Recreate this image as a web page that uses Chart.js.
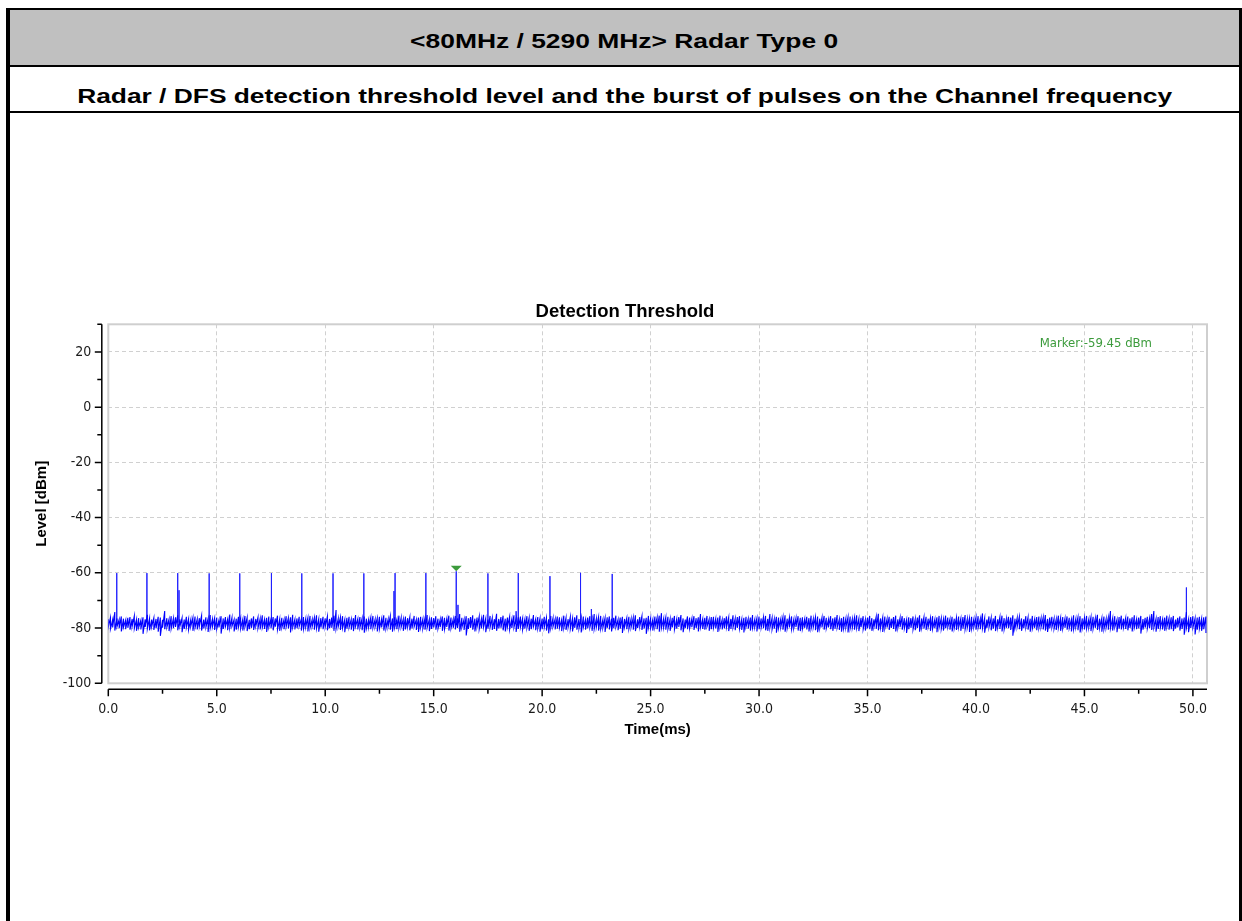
<!DOCTYPE html>
<html>
<head>
<meta charset="utf-8">
<script src="https://cdn.jsdelivr.net/npm/chart.js@4.4.1/dist/chart.umd.min.js"></script>
<style>
  html, body { margin:0; padding:0; background:#fff; width:1242px; height:921px; overflow:hidden; }
  .abs { position:absolute; }
  #outer { left:6px; top:8px; width:1236px; height:913px; box-sizing:border-box;
           border-left:4px solid #000; border-right:3px solid #000; border-top:2px solid #000; }
  #hdr { left:10px; top:10px; width:1229px; height:55px; background:#c0c0c0; }
  #line1 { left:10px; top:65px; width:1229px; height:2px; background:#000; }
  #line2 { left:10px; top:111px; width:1229px; height:2px; background:#000; }
  .htxt { left:10px; width:1229px; text-align:center; font-family:"Liberation Sans", Arial, sans-serif;
          font-weight:bold; font-size:20px; line-height:20px; color:#000; white-space:nowrap; }
  .htxt span { display:inline-block; transform-origin:50% 50%; }
  #h1 { top:31px; }
  #h2 { top:86px; }
  #chart { left:0; top:0; }
</style>
</head>
<body>
<div id="outer" class="abs"></div>
<div id="hdr" class="abs"></div>
<div id="line1" class="abs"></div>
<div id="line2" class="abs"></div>
<div id="h1" class="abs htxt"><span id="h1s">&lt;80MHz / 5290 MHz&gt; Radar Type 0</span></div>
<div id="h2" class="abs htxt"><span id="h2s">Radar / DFS detection threshold level and the burst of pulses on the Channel frequency</span></div>
<canvas id="chart" class="abs" width="1242" height="921"></canvas>
<script>
// ---------------- data ----------------
const chartTitle = "Detection Threshold";
const xAxisTitle = "Time(ms)";
const yAxisTitle = "Level [dBm]";

const xTicks = [0, 5, 10, 15, 20, 25, 30, 35, 40, 45, 50];
const xTickLabels = ["0.0", "5.0", "10.0", "15.0", "20.0", "25.0", "30.0", "35.0", "40.0", "45.0", "50.0"];
const xMinorTicks = [2.5, 7.5, 12.5, 17.5, 22.5, 27.5, 32.5, 37.5, 42.5, 47.5];
const yTicks = [-100, -80, -60, -40, -20, 0, 20];
const yTickLabels = ["-100", "-80", "-60", "-40", "-20", "0", "20"];
const yMinorTicks = [-90, -70, -50, -30, -10, 10, 30];
const xRange = [0, 50.65];
const yRange = [-100, 30];

// noise floor: highest and lowest level in each 0.1 ms bin, bins starting at 0 ms (dBm)
const noiseStart = 0;
const noiseStep = 0.1;
const noiseMax = [
 -76.8,-76.2,-77.0,-74.2,-76.5,-76.9,-75.8,-76.6,-77.1,-76.3,
 -76.0,-76.7,-75.6,-76.9,-76.4,-77.2,-76.1,-76.8,-75.2,-76.5,
 -76.9,-76.3,-76.7,-75.9,-76.2,-77.0,-73.8,-76.4,-76.8,-75.7,
 -76.5,-76.1,-75.4,-76.8,-76.3,-76.9,-75.9,-76.6,-77.0,-76.2,
 -75.8,-76.7,-76.4,-75.5,-76.9,-76.1,-76.6,-75.3,-76.8,-76.4,
 -76.2,-77.1,-75.7,-76.5,-76.0,-76.8,-75.1,-76.3,-76.9,-76.6,
 -75.9,-76.4,-76.8,-75.6,-76.2,-77.0,-76.5,-75.8,-76.7,-76.1,
 -76.6,-75.4,-76.9,-76.3,-75.8,-76.7,-76.0,-76.5,-75.5,-76.8,
 -76.3,-76.9,-75.7,-76.4,-76.1,-75.2,-76.8,-76.5,-75.9,-76.7,
 -76.0,-76.6,-76.3,-75.6,-76.9,-76.2,-75.4,-76.7,-76.4,-75.9,
 -76.5,-75.8,-76.7,-76.2,-75.5,-73.5,-76.6,-76.1,-75.7,-76.9,
 -76.3,-75.9,-76.8,-76.4,-75.3,-76.7,-76.0,-76.5,-75.8,-76.6,
 -76.9,-76.2,-75.6,-76.8,-76.4,-75.9,-76.7,-75.4,-76.3,-76.8,
 -75.7,-76.5,-76.1,-76.9,-75.5,-76.3,-76.7,-75.8,-76.4,-76.0,
 -76.6,-75.6,-76.9,-76.2,-75.9,-76.7,-76.4,-75.3,-76.8,-76.1,
 -76.4,-75.7,-76.6,-76.9,-75.8,-76.3,-76.7,-75.5,-76.2,-76.8,
 -75.6,-76.5,-74.9,-76.3,-76.8,-75.7,-76.4,-76.0,-75.4,-76.6,
 -76.2,-75.8,-76.7,-75.2,-76.5,-76.9,-75.6,-76.3,-76.8,-74.8,
 -76.7,-76.0,-75.5,-76.6,-76.2,-75.9,-76.8,-75.4,-76.5,-76.1,
 -75.8,-76.4,-76.9,-75.7,-76.3,-76.6,-75.3,-76.8,-76.0,-76.5,
 -76.6,-75.9,-76.2,-76.8,-75.6,-76.4,-76.7,-75.8,-76.1,-76.9,
 -75.5,-76.3,-76.8,-75.9,-76.5,-76.1,-75.4,-76.7,-76.3,-75.8,
 -76.8,-76.2,-75.7,-76.5,-74.9,-76.6,-76.0,-75.6,-76.9,-76.3,
 -76.1,-75.8,-76.6,-76.3,-75.5,-76.9,-76.2,-75.9,-76.7,-76.4,
 -75.9,-76.7,-76.2,-75.4,-76.8,-76.0,-75.7,-76.5,-76.3,-75.6,
 -76.4,-76.9,-75.8,-76.2,-75.5,-74.6,-76.6,-76.1,-75.9,-76.7,
 -76.3,-75.6,-76.8,-76.0,-75.3,-76.5,-76.9,-75.8,-76.2,-76.6,
 -75.7,-76.4,-76.1,-74.9,-76.7,-76.3,-75.6,-76.8,-76.0,-75.9,
 -76.6,-76.2,-75.5,-76.9,-76.4,-75.8,-76.1,-76.7,-75.4,-76.5,
 -76.0,-75.7,-76.8,-76.3,-75.9,-76.6,-76.2,-75.3,-76.9,-76.4,
 -75.8,-76.5,-76.1,-75.6,-76.7,-74.9,-76.3,-76.8,-75.9,-76.2,
 -76.7,-76.0,-75.4,-76.6,-76.2,-75.8,-76.9,-76.4,-75.7,-76.3,
 -76.1,-76.8,-75.9,-76.4,-75.5,-76.7,-76.0,-75.8,-76.6,-76.2,
 -75.6,-76.3,-76.9,-75.7,-76.5,-76.1,-75.3,-76.8,-76.4,-75.9,
 -76.5,-76.0,-75.8,-76.7,-76.2,-75.4,-76.6,-76.3,-75.7,-76.9,
 -76.2,-75.6,-76.4,-76.8,-75.9,-74.8,-76.5,-76.1,-75.8,-76.7,
 -75.9,-76.6,-76.0,-75.5,-76.8,-76.3,-75.7,-76.4,-76.9,-76.1,
 -76.4,-75.8,-76.7,-76.2,-75.4,-76.5,-76.0,-75.9,-76.6,-76.3,
 -75.7,-76.9,-76.1,-75.6,-76.4,-76.8,-75.5,-76.2,-76.7,-75.9,
 -76.6,-76.2,-75.8,-76.5,-76.0,-75.3,-76.7,-76.4,-75.9,-76.8,
 -76.1,-75.7,-76.6,-74.7,-76.3,-76.9,-75.8,-76.2,-76.5,-75.6,
 -76.8,-76.0,-75.5,-76.4,-76.7,-75.9,-76.2,-75.4,-76.6,-76.3,
 -75.9,-76.5,-76.8,-75.7,-76.1,-76.6,-75.6,-76.9,-76.0,-75.8,
 -76.4,-76.1,-75.3,-76.7,-76.2,-75.9,-76.5,-76.8,-75.5,-76.3,
 -76.0,-76.6,-75.8,-76.3,-76.9,-75.4,-76.7,-76.1,-75.7,-76.5,
 -76.3,-75.6,-76.8,-76.0,-75.9,-76.5,-75.2,-76.6,-76.4,-75.8,
 -76.7,-76.2,-73.8,-76.4,-75.7,-76.9,-76.0,-75.5,-76.6,-76.3,
 -75.8,-76.5,-76.1,-75.4,-76.8,-76.2,-75.6,-76.7,-76.3,-75.9,
 -76.5,-74.9,-73.8,-76.6,-76.0,-75.7,-76.8,-76.2,-75.5,-76.4,
 -76.1,-75.6,-76.9,-76.3,-75.8,-76.5,-76.2,-74.2,-76.7,-76.0,
 -75.7,-76.4,-76.2,-75.9,-76.6,-76.1,-75.8
];
const noiseMin = [
 -79.6,-80.3,-79.8,-80.9,-79.5,-80.1,-81.2,-79.7,-80.4,-79.9,
 -80.6,-79.4,-80.2,-81.0,-79.8,-80.5,-82.1,-79.6,-80.3,-80.8,
 -79.5,-80.7,-80.1,-81.3,-82.8,-79.9,-80.4,-79.7,-81.1,-80.2,
 -80.0,-79.6,-80.8,-79.4,-81.5,-80.3,-79.8,-80.6,-79.5,-81.0,
 -79.9,-80.5,-79.3,-80.9,-80.2,-79.7,-81.4,-80.1,-79.6,-80.7,
 -80.4,-79.8,-82.0,-80.3,-79.5,-80.8,-80.0,-79.4,-81.2,-80.6,
 -79.7,-80.2,-80.9,-79.6,-81.1,-80.4,-79.9,-80.7,-79.3,-80.1,
 -80.5,-79.8,-80.3,-81.4,-79.7,-80.0,-80.8,-79.5,-80.6,-81.0,
 -79.9,-80.4,-79.6,-80.2,-81.6,-79.8,-80.5,-80.1,-79.4,-80.9,
 -80.3,-79.7,-81.2,-80.0,-79.5,-80.6,-80.2,-81.3,-79.8,-80.4,
 -79.6,-80.8,-80.1,-79.9,-81.0,-80.3,-79.5,-80.7,-80.0,-81.5,
 -80.2,-79.8,-80.6,-81.1,-79.4,-80.5,-79.9,-80.8,-81.7,-80.1,
 -79.7,-80.4,-80.0,-79.6,-81.2,-80.3,-79.8,-80.9,-80.2,-79.5,
 -80.6,-81.3,-79.9,-80.4,-80.0,-79.7,-81.0,-80.5,-79.6,-80.8,
 -80.1,-79.5,-80.7,-81.4,-79.8,-80.2,-80.6,-79.9,-81.1,-80.3,
 -79.8,-80.6,-80.2,-79.7,-81.0,-80.4,-79.6,-80.9,-80.1,-79.9,
 -80.5,-80.0,-81.3,-79.8,-80.7,-82.7,-80.3,-79.9,-80.6,-81.2,
 -79.6,-80.4,-80.1,-79.7,-81.5,-80.2,-79.8,-80.7,-80.3,-81.0,
 -80.2,-79.9,-80.8,-81.2,-79.6,-80.5,-80.0,-79.8,-81.4,-80.3,
 -79.7,-80.6,-80.2,-79.9,-81.0,-80.4,-79.5,-80.8,-80.1,-81.3,
 -80.4,-79.8,-80.9,-81.9,-80.0,-79.6,-80.5,-80.2,-79.9,-81.1,
 -80.0,-80.7,-79.7,-80.3,-81.2,-79.9,-80.6,-80.1,-81.6,-79.8,
 -80.6,-80.1,-79.8,-81.0,-80.4,-79.7,-80.9,-80.3,-79.9,-81.4,
 -79.9,-80.5,-81.2,-80.0,-79.7,-80.8,-80.2,-81.8,-79.6,-80.4,
 -80.3,-79.8,-80.6,-81.1,-80.0,-79.5,-80.7,-80.2,-82.1,-79.9,
 -80.1,-80.9,-79.7,-80.4,-81.3,-80.0,-79.8,-80.6,-80.3,-81.0,
 -79.8,-80.5,-80.2,-79.6,-80.8,-81.5,-79.9,-80.4,-80.1,-79.7,
 -80.7,-80.0,-81.2,-79.8,-80.3,-80.6,-79.5,-81.0,-80.4,-79.9,
 -80.2,-81.4,-79.9,-80.5,-80.1,-79.7,-81.1,-80.3,-79.8,-80.8,
 -79.9,-80.3,-80.7,-81.6,-79.6,-80.2,-80.9,-80.0,-79.7,-81.2,
 -80.4,-79.8,-80.1,-80.8,-81.0,-79.9,-80.5,-80.2,-81.7,-80.0,
 -79.7,-80.6,-81.3,-80.0,-79.8,-80.4,-80.1,-79.6,-80.9,-81.1,
 -80.3,-79.9,-80.5,-81.2,-80.2,-79.7,-80.8,-81.5,-80.0,-79.8,
 -80.6,-80.1,-79.8,-80.4,-81.0,-80.3,-79.9,-80.7,-81.3,-80.2,
 -79.8,-81.6,-80.2,-79.9,-80.6,-80.0,-81.1,-79.7,-80.4,-80.9,
 -80.1,-80.4,-81.0,-79.6,-80.3,-80.8,-79.9,-81.4,-80.2,-79.8,
 -80.7,-79.9,-80.3,-81.2,-80.0,-79.7,-80.6,-80.1,-81.8,-80.4,
 -79.9,-80.5,-80.8,-80.0,-81.3,-79.8,-80.2,-80.7,-79.6,-81.0,
 -80.3,-80.0,-81.5,-79.9,-80.4,-80.9,-80.1,-79.7,-80.6,-81.2,
 -80.0,-80.7,-79.8,-81.0,-80.2,-80.5,-79.9,-81.4,-80.3,-79.7,
 -80.6,-79.9,-80.4,-80.1,-81.7,-80.0,-79.8,-80.8,-80.2,-81.1,
 -79.8,-80.3,-81.2,-80.5,-79.9,-80.1,-80.7,-82.8,-80.0,-79.6,
 -80.4,-81.0,-80.1,-79.8,-80.6,-81.3,-80.2,-79.9,-80.8,-80.0,
 -79.7,-80.5,-80.9,-81.4,-80.1,-79.8,-80.3,-80.7,-79.9,-81.0,
 -80.2,-79.9,-80.6,-80.0,-81.2,-80.4,-79.7,-80.8,-81.6,-80.1,
 -80.5,-80.2,-79.8,-81.1,-80.3,-79.9,-80.7,-80.0,-81.3,-80.4,
 -79.9,-80.6,-80.1,-80.9,-79.7,-81.5,-80.2,-80.5,-79.8,-80.3,
 -80.8,-80.0,-81.2,-79.9,-80.4,-80.1,-82.0,-80.6,-79.8,-80.2,
 -80.1,-80.7,-79.9,-81.3,-80.3,-80.0,-80.5,-81.0,-79.7,-80.6,
 -80.4,-81.1,-80.2,-79.8,-80.9,-80.3,-82.4,-80.1,-81.5,-80.0,
 -79.9,-82.3,-80.6,-80.2,-81.0,-80.4,-81.8
];

// radar burst pulses (time in ms, peak level in dBm)
const pulseTimes  = [0.39, 1.78, 3.20, 4.65, 6.06, 7.52, 8.92, 10.36, 11.78, 13.22, 14.64, 16.04, 17.50, 18.90, 20.36, 21.77, 23.23];
const pulseLevels = [-60.1, -60.1, -60.1, -60.2, -60.2, -60.1, -60.2, -60.2, -60.2, -60.1, -60.1, -59.45, -60.2, -60.1, -61.2, -60.0, -60.4];
// smaller spikes
const spikeTimes  = [3.26, 13.17, 16.12, 18.80, 22.27, 49.70];
const spikeLevels = [-66.3, -66.6, -71.6, -73.9, -73.1, -65.3];
const pulseBase = -78;

// marker
const markerTime = 16.04;
const markerLevel = -59.45;
const markerLabel = "Marker:" + markerLevel.toFixed(2) + " dBm";

// ---------------- build ----------------
const noiseData = [];
noiseMax.forEach((hi, i) => {
  const t = noiseStart + i * noiseStep;
  noiseData.push({ x: t, y: hi }, { x: t, y: noiseMin[i] });
});
const pulseData = [];
function addSpikes(times, levels) {
  times.forEach((t, i) => {
    pulseData.push({ x: t, y: pulseBase }, { x: t, y: levels[i] }, { x: t, y: pulseBase }, { x: t, y: null });
  });
}
addSpikes(pulseTimes, pulseLevels);
addSpikes(spikeTimes, spikeLevels);

const TICK_FONT = '"Liberation Sans Narrow", "DejaVu Sans Condensed", "Liberation Sans", sans-serif';
const BOLD_FONT = '"Liberation Sans", Arial, sans-serif';

const axesPlugin = {
  id: 'axesDecor',
  beforeDatasetsDraw(chart) {
    const { ctx, chartArea: ca } = chart;
    ctx.save();
    ctx.strokeStyle = '#cfcfcf';
    ctx.lineWidth = 2;
    ctx.strokeRect(ca.left, ca.top, ca.right - ca.left, ca.bottom - ca.top);
    ctx.restore();
  },
  afterDraw(chart) {
    const { ctx, chartArea: ca, scales: { x, y } } = chart;
    ctx.save();
    ctx.strokeStyle = '#000';
    ctx.lineWidth = 1.5;
    const ax = ca.left - 6.5;
    ctx.beginPath();
    ctx.moveTo(ax, y.getPixelForValue(yRange[1]));
    ctx.lineTo(ax, y.getPixelForValue(yRange[0]));
    yTicks.forEach(v => { const p = y.getPixelForValue(v); ctx.moveTo(ax - 7, p); ctx.lineTo(ax, p); });
    yMinorTicks.forEach(v => { const p = y.getPixelForValue(v); ctx.moveTo(ax - 4.5, p); ctx.lineTo(ax, p); });
    const ay = ca.bottom + 6;
    ctx.moveTo(x.getPixelForValue(xRange[0]), ay);
    ctx.lineTo(x.getPixelForValue(xRange[1]), ay);
    xTicks.forEach(v => { const p = x.getPixelForValue(v); ctx.moveTo(p, ay); ctx.lineTo(p, ay + 7); });
    xMinorTicks.forEach(v => { const p = x.getPixelForValue(v); ctx.moveTo(p, ay); ctx.lineTo(p, ay + 4.5); });
    ctx.stroke();

    // marker triangle
    const mx = x.getPixelForValue(markerTime);
    const my = y.getPixelForValue(markerLevel);
    ctx.fillStyle = '#3c9b3c';
    ctx.beginPath();
    ctx.moveTo(mx, my);
    ctx.lineTo(mx - 5.5, my - 5.5);
    ctx.lineTo(mx + 5.5, my - 5.5);
    ctx.closePath();
    ctx.fill();

    // marker text
    ctx.font = '13px ' + TICK_FONT;
    ctx.fillStyle = '#3c9b3c';
    ctx.textAlign = 'right';
    ctx.textBaseline = 'middle';
    ctx.fillText(markerLabel, ca.right - 55, ca.top + 19);
    ctx.restore();
  }
};

Chart.defaults.font.family = TICK_FONT;
Chart.defaults.color = '#1a1a1a';

new Chart(document.getElementById('chart'), {
  type: 'scatter',
  data: {
    datasets: [
      { label: 'Level', data: noiseData, showLine: true, borderColor: '#0000ff', borderWidth: 1.1,
        pointRadius: 0, tension: 0, spanGaps: false },
      { label: 'Pulses', data: pulseData, showLine: true, borderColor: '#2020ff', borderWidth: 1,
        pointRadius: 0, tension: 0, spanGaps: false }
    ]
  },
  plugins: [axesPlugin],
  options: {
    responsive: false,
    animation: false,
    events: [],
    layout: { padding: { left: 43, right: 35, top: 0, bottom: 0 } },
    plugins: {
      legend: { display: false },
      tooltip: { enabled: false },
      title: { display: true, text: chartTitle, color: '#000',
               font: { family: BOLD_FONT, size: 18.5, weight: 'bold', lineHeight: 1.2 },
               padding: { top: 301, bottom: 1.1 } }
    },
    scales: {
      x: {
        type: 'linear', position: 'bottom', min: xRange[0], max: xRange[1],
        afterBuildTicks: s => { s.ticks = xTicks.map(v => ({ value: v })); },
        afterFit: s => { s.height = 237.7; },
        ticks: { padding: 18, font: { size: 14 }, color: '#1a1a1a', maxRotation: 0, autoSkip: false,
                 callback: (v) => xTickLabels[xTicks.indexOf(v)] },
        grid: { color: '#d0d0d0', lineWidth: 1, drawTicks: false },
        border: { display: false, dash: [4, 3] },
        title: { display: true, text: xAxisTitle, color: '#000',
                 font: { family: BOLD_FONT, size: 15, weight: 'bold', lineHeight: 1.2 },
                 padding: { top: 0, bottom: 182 } }
      },
      y: {
        type: 'linear', position: 'left', min: yRange[0], max: yRange[1],
        afterBuildTicks: s => { s.ticks = yTicks.map(v => ({ value: v })); },
        afterFit: s => { s.width = 65.3; },
        ticks: { padding: 17, font: { size: 14 }, color: '#1a1a1a', autoSkip: false,
                 callback: (v) => yTickLabels[yTicks.indexOf(v)] },
        grid: { color: '#d0d0d0', lineWidth: 1, drawTicks: false },
        border: { display: false, dash: [4, 3] },
        title: { display: true, text: yAxisTitle, color: '#000',
                 font: { family: BOLD_FONT, size: 15, weight: 'bold', lineHeight: 1.2 },
                 padding: { top: -10, bottom: 0 } }
      }
    }
  }
});

// stretch header texts to the widths they span in the document
function fitWidth(id, target) {
  const el = document.getElementById(id);
  const w = el.getBoundingClientRect().width;
  el.style.transform = 'scaleX(' + (target / w) + ')';
}
fitWidth('h1s', 428);
fitWidth('h2s', 1095);
</script>
</body>
</html>
